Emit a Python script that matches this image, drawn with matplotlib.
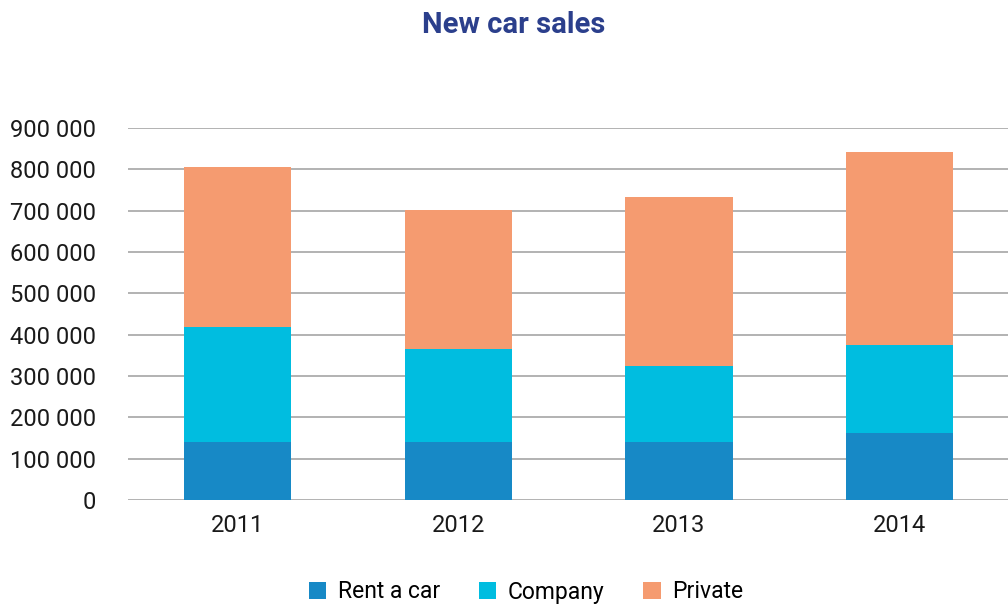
import matplotlib
matplotlib.use('Agg')
import matplotlib.pyplot as plt
import numpy as np

years = ['2011', '2012', '2013', '2014']
rent_a_car = [140000, 140000, 140000, 162000]
company = [279000, 225000, 184000, 213000]
private = [387000, 337000, 409000, 467000]

colors = ['#1789c6', '#00bde0', '#f59b70']

plt.rcParams['font.family'] = ['Roboto', 'DejaVu Sans']

fig = plt.figure(figsize=(10.08, 6.07), dpi=100)
ax = fig.add_axes([128/1008, 1-500/607, 880/1008, 372/607])

x = np.arange(len(years))
w = 0.485
bottom = np.zeros(len(years))
for vals, name, c in zip([rent_a_car, company, private], ['Rent a car', 'Company', 'Private'], colors):
    ax.bar(x, vals, w, bottom=bottom, color=c, label=name, zorder=3)
    bottom += np.array(vals)

ax.set_xlim(-0.495, 3.49)
ax.set_ylim(0, 900000)
ax.set_yticks(np.arange(0, 900001, 100000))
ax.set_yticklabels(['0'] + ['{} 000'.format(v // 1000) for v in range(100000, 900001, 100000)])
ax.set_xticks(x)
ax.set_xticklabels(years)
ax.grid(axis='y', color='#a6a6a6', linewidth=1.2, zorder=0)
for s in ax.spines.values():
    s.set_visible(False)
ax.tick_params(axis='both', length=0, labelsize=17, colors='#1a1a1a')
ax.tick_params(axis='y', pad=23)
ax.tick_params(axis='x', pad=10)

fig.text(0.51, 1-25/607, 'New car sales', ha='center', va='center', fontsize=21,
         fontweight='bold', color='#2b3f8c')

fig.legend(loc='center', bbox_to_anchor=(0.522, 1-592/607), ncol=3, frameon=False,
           fontsize=16.5, handlelength=0.75, handleheight=0.75, columnspacing=1.7, handletextpad=0.5)

fig.savefig('out.png', dpi=100)
